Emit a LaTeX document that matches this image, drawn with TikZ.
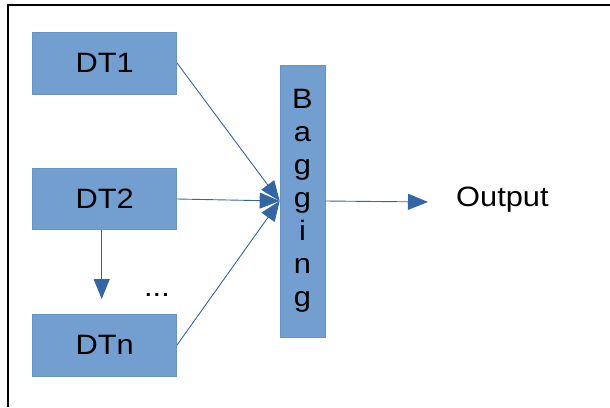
\documentclass[tikz,border=0pt]{standalone}
\usepackage{fontspec}
\setmainfont{Liberation Sans}[FakeStretch=1.1]
\usetikzlibrary{arrows.meta}
\definecolor{boxfill}{HTML}{729FCF}
\definecolor{boxline}{HTML}{6893C9}
\definecolor{arrowc}{HTML}{3465A4}
\begin{document}
\begin{tikzpicture}[x=1pt,y=-1pt,
  box/.style={draw=boxline, line width=0.7pt, fill=boxfill, inner sep=0pt,
    minimum width=144pt, minimum height=62pt, font=\fontsize{28}{33}\selectfont},
  conn/.style={draw=arrowc, line width=0.9pt, -{Triangle[length=20pt,width=16pt]}},
  lbl/.style={inner sep=0pt, font=\fontsize{28}{33}\selectfont}]
\useasboundingbox (0,0) rectangle (610,407);
\draw[line width=1.3pt] (8,407) -- (8,5);
\draw[line width=2pt] (7.35,5) -- (610,5);
\node[box] (DT1) at (104.7,63) {DT1};
\node[box, minimum height=61pt] (DT2) at (104.7,199) {DT2};
\node[box] (DTn) at (104.7,345) {DTn};
\node[box, minimum width=45pt, minimum height=272pt, align=center] (Bag) at (302.5,201)
  {B\\a\\g\\g\\i\\n\\g};
\node[lbl, anchor=base west] (Out) at (456,206) {Output};
\node[lbl, anchor=base] (dots) at (157,296) {...};
\coordinate (dn) at (101.7,299);
\coordinate (outtip) at (428,202);
\draw[conn] (DT1.east) -- (Bag.west);
\draw[conn] (DT2.east) -- (Bag.west);
\draw[conn] (DTn.east) -- (Bag.west);
\draw[conn] ([xshift=-3pt]DT2.south) -- (dn);
\draw[conn] (Bag.east) -- (outtip);
\end{tikzpicture}
\end{document}
